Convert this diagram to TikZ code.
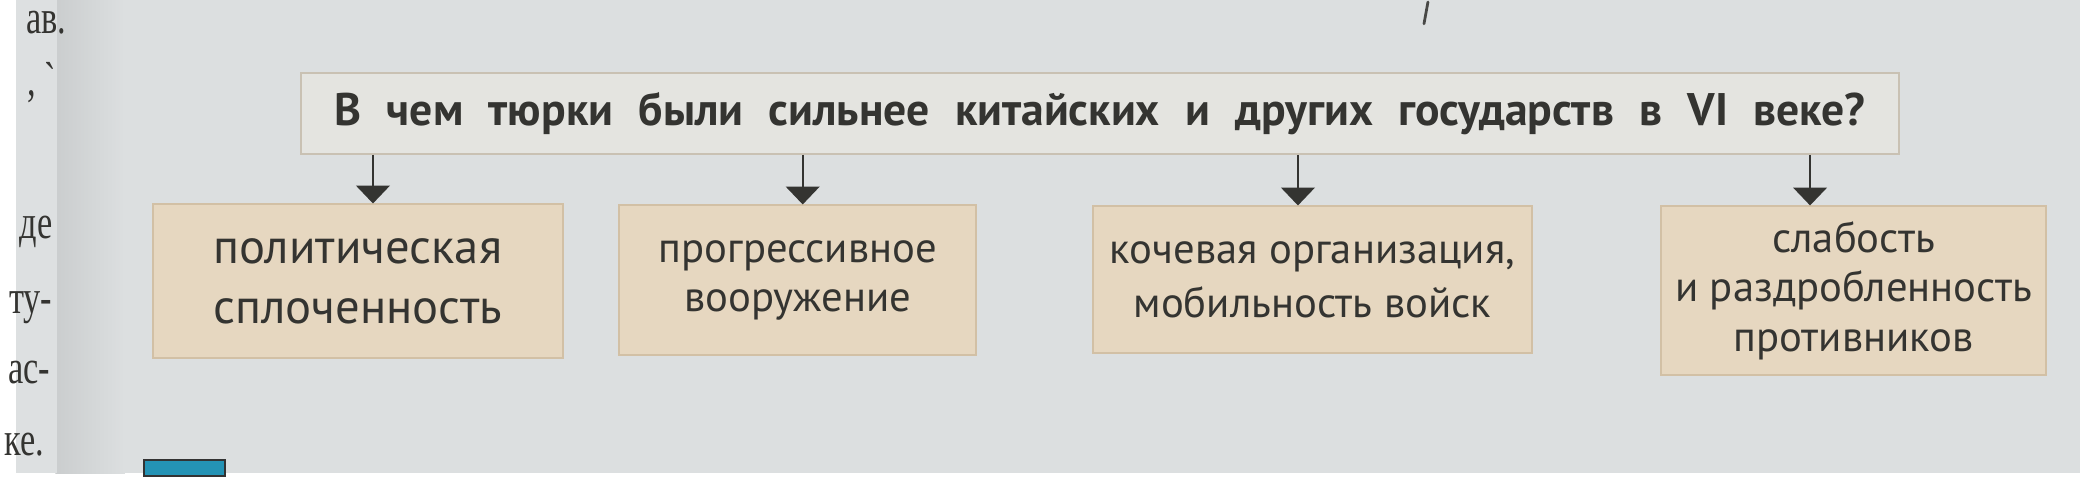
\documentclass[tikz,border=0pt]{standalone}
\usepackage{fontspec}
\setmainfont{PT Sans}
\newfontfamily\pageserif{Liberation Serif}
\usetikzlibrary{arrows.meta,calc}
\definecolor{bgcol}{HTML}{DCDFE0}
\definecolor{titlefill}{HTML}{E4E4E0}
\definecolor{titledraw}{HTML}{C9C1B3}
\definecolor{boxfill}{HTML}{E6D7C0}
\definecolor{boxdraw}{HTML}{D2C0A5}
\definecolor{inkcol}{HTML}{343431}
\definecolor{tealcol}{HTML}{2493B5}
\tikzset{
  titlebox/.style={draw=titledraw, fill=titlefill, line width=1pt, inner sep=0pt,
    minimum width=805.5pt, minimum height=40.5pt, text=inkcol,
    font=\fontsize{23pt}{26pt}\selectfont\bfseries},
  answerbox/.style={draw=boxdraw, fill=boxfill, line width=1pt, inner sep=0pt,
    align=center, text=inkcol, font=\fontsize{21.5pt}{25pt}\selectfont},
  linkarrow/.style={draw=inkcol, line width=0.9pt,
    -{Triangle[width=17pt,length=9pt]}},
  pagetext/.style={anchor=base east, text=inkcol, xscale=0.72,
    font=\pageserif\fontsize{24pt}{28pt}\selectfont}
}
\begin{document}
\begin{tikzpicture}[x=0.5pt, y=-0.5pt]
% page background
\fill[bgcol] (0,0) rectangle (2080,477);
\fill[left color=bgcol!92!black, right color=bgcol] (40,0) rectangle (110,477);
\fill[bgcol!97!white] (0,0) rectangle (42,477);
% fragments of the facing page
\node[pagetext] (f1) at (56,34) {ав.};
\node[pagetext] (f2) at (46,96) {, `};
\node[pagetext] (f3) at (42,240) {де};
\node[pagetext] (f4) at (42,316) {ту-};
\node[pagetext] (f5) at (40,386) {ас-};
\node[pagetext] (f6) at (34,459) {ке.};
\draw[fill=tealcol, draw=black!80, line width=1pt] (129,463) rectangle (211,480);
\draw[inkcol!90, line width=1.4pt, line cap=round] (1423,2) -- (1419,24);
% title
\node[titlebox] (title) at (1092.5,114.5) {\makebox[771pt][s]{В чем тюрки были сильнее китайских и других государств в VI веке?}};
% answer boxes
\node[answerbox, minimum width=206.5pt, minimum height=77.5pt,
  font=\fontsize{24.5pt}{30pt}\selectfont] (b1) at (344.5,283.5)
  {политическая\\сплоченность};
\node[answerbox, minimum width=180pt, minimum height=75.5pt] (b2) at (788,282.5)
  {прогрессивное\\вооружение};
\node[answerbox, minimum width=221.5pt, minimum height=74pt,
  font=\fontsize{21.5pt}{27pt}\selectfont] (b3) at (1306.5,282)
  {кочевая организация,\\мобильность войск};
\node[answerbox, minimum width=194pt, minimum height=85pt] (b4) at (1852,293)
  {слабость\\и раздробленность\\противников};
% arrow positions on the box tops
\coordinate (a1) at (360,206);
\coordinate (a2) at (793,207);
\coordinate (a3) at (1292,208);
\coordinate (a4) at (1808,208);
\draw[linkarrow] (title.south -| a1) -- (a1 |- b1.north);
\draw[linkarrow] (title.south -| a2) -- (a2 |- b2.north);
\draw[linkarrow] (title.south -| a3) -- (a3 |- b3.north);
\draw[linkarrow] (title.south -| a4) -- (a4 |- b4.north);
\useasboundingbox (0,0) rectangle (2080,477);
\end{tikzpicture}
\end{document}
